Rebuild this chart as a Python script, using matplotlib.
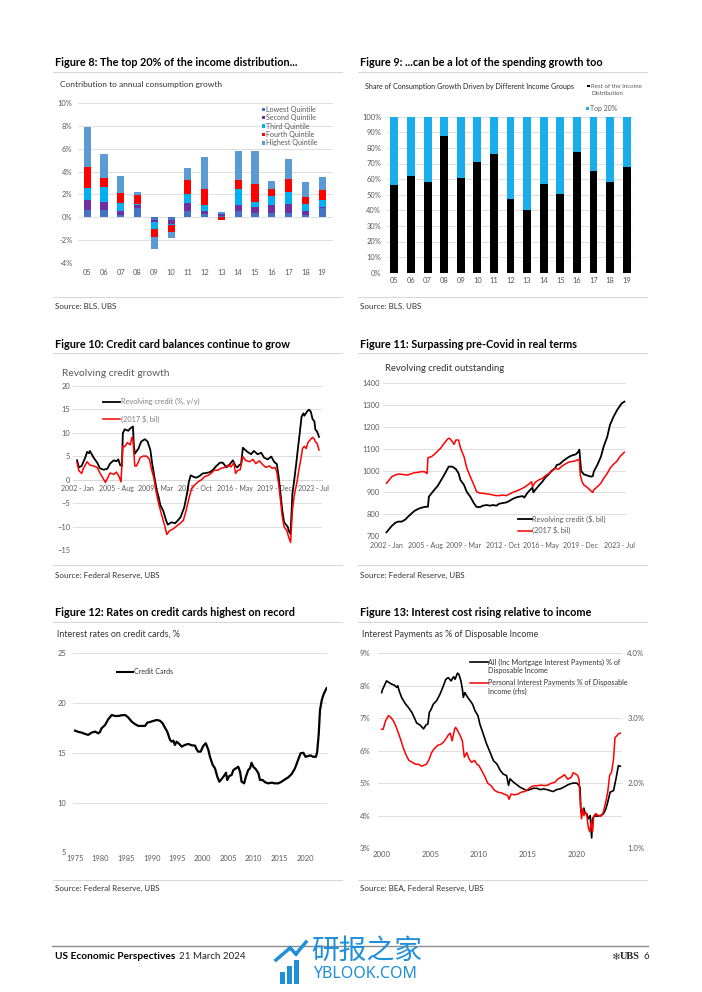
import matplotlib
matplotlib.use("Agg")
import matplotlib.pyplot as plt
from matplotlib.lines import Line2D
from matplotlib.patches import Rectangle

plt.rcParams['font.family'] = ['Lato', 'DejaVu Sans']

# ---------------- datos ----------------
years_lbl = ["05", "06", "07", "08", "09", "10", "11", "12", "13", "14", "15", "16", "17", "18", "19"]

# Figura 8: contribucion por quintil (pp)
q_lowest = [0.68, 0.68, 0.18, 0.8, -0.2, -0.2, 0.55, 0.3, 0.15, 0.6, 0.4, 0.35, 0.35, 0.25, 0.8]
q_second = [0.8, 0.68, 0.42, 0.25, -0.2, -0.4, 0.7, 0.3, 0.15, 0.45, 0.55, 0.75, 0.8, 0.35, 0.1]
q_third = [1.1, 1.25, 0.65, 0.15, -0.65, -0.1, 0.8, 0.5, 0.05, 1.4, 0.4, 0.75, 1.05, 0.55, 0.65]
q_fourth = [1.85, 0.82, 0.85, 0.75, -0.7, -0.55, 1.25, 1.35, -0.2, 0.85, 1.55, 0.6, 1.15, 0.65, 0.85]
q_highest = [3.45, 2.1, 1.55, 0.25, -1.0, -0.55, 1.0, 2.8, 0.15, 2.45, 2.9, 0.7, 1.75, 1.25, 1.15]
quint_names = ["Lowest Quintile", "Second Quintile", "Third Quintile", "Fourth Quintile", "Highest Quintile"]
quint_colors = ["#4472C4", "#7030A0", "#00B0F0", "#FF0000", "#5B9BD5"]

# Figura 9: participacion del resto (%), top 20% = 100 - resto
rest_share = [56, 62, 58, 87.5, 61, 71, 76, 47.5, 40.5, 57, 50.5, 77.5, 65.5, 58, 67.5]

# Figura 10: crecimiento del credito revolvente (mes 0 = 2002-Jan)
f10_black_m = [0, 2, 5, 9, 11, 13, 14, 18, 22, 25, 29, 33, 36, 40, 43, 45, 47, 49, 50, 52, 56, 58, 61, 62, 63,
               67, 70, 74, 77, 80, 82, 85, 87, 89, 91, 94, 97, 99, 103, 107, 110, 113, 117, 120, 122, 124, 127,
               130, 134, 137, 141, 145, 148, 152, 156, 159, 163, 166, 170, 173, 175, 177, 179, 181, 183, 186,
               190, 193, 197, 201, 204, 208, 212, 215, 218, 220, 222, 224, 226, 230, 231, 233, 234, 235, 237,
               239, 241, 243, 245, 247, 248, 251, 253, 255, 257, 259, 260, 262, 264]
f10_black = [4.1, 2.6, 2.9, 4.7, 5.9, 5.6, 6.1, 4.7, 3.6, 2.4, 2.1, 2.3, 3.4, 4.1, 3.9, 4.3, 3.1, 2.9, 9.9, 10.7,
             10.4, 10.9, 11.3, 7.4, 5.5, 6.6, 8.1, 8.6, 8.1, 6.3, 3.4, -0.1, -2.3, -3.7, -5.5, -6.6, -8.6, -9.6,
             -9.1, -9.3, -8.7, -8.0, -5.9, -3.0, -0.5, 0.9, 0.6, 0.4, 0.8, 1.3, 1.4, 1.6, 2.0, 2.9, 3.6, 3.6,
             2.6, 3.1, 4.1, 2.9, 2.6, 3.1, 3.3, 6.8, 6.4, 5.9, 5.4, 6.1, 5.4, 5.7, 4.7, 4.3, 4.9, 3.8, 3.3, 0.6,
             -3.0, -6.6, -9.1, -10.1, -10.9, -11.6, -7.3, -3.0, -0.1, 3.1, 6.6, 9.9, 13.4, 14.1, 13.6, 14.5,
             14.9, 14.5, 12.9, 12.4, 10.7, 10.2, 9.1]
f10_red_m = [0, 2, 5, 7, 11, 14, 18, 22, 25, 28, 31, 34, 36, 40, 43, 46, 48, 50, 52, 55, 58, 60, 61, 63, 65, 69,
             72, 76, 79, 81, 84, 86, 89, 92, 96, 98, 101, 105, 108, 112, 116, 119, 122, 125, 128, 132, 136, 139,
             143, 146, 150, 154, 157, 161, 165, 168, 171, 173, 175, 178, 181, 184, 188, 192, 195, 199, 203, 206,
             210, 213, 216, 218, 220, 222, 224, 226, 229, 231, 233, 234, 235, 237, 240, 242, 244, 246, 248, 250,
             252, 255, 257, 259, 260, 262, 264]
f10_red = [3.6, 1.9, 1.3, 2.4, 3.8, 3.1, 2.9, 2.6, 1.4, 0.4, -0.6, 0.6, 1.4, 1.1, 1.6, 0.6, -0.5, 7.1, 7.0, 7.9,
           7.4, 9.0, 8.6, 2.9, 2.9, 4.7, 5.0, 5.0, 4.3, 2.4, 0.2, -2.3, -5.1, -7.3, -10.1, -11.7, -10.9, -10.5,
           -10.0, -9.4, -8.7, -6.6, -4.1, -1.9, -1.2, -0.5, 0.0, 0.6, 0.9, 1.3, 2.0, 2.0, 2.4, 2.6, 3.1, 2.7, 3.6,
           1.3, 1.9, 2.1, 4.9, 4.1, 3.8, 4.3, 3.4, 4.0, 3.1, 2.6, 2.9, 2.4, 2.6, 1.6, -0.9, -4.4, -8.0, -10.1,
           -10.9, -12.3, -13.4, -10.1, -6.6, -3.4, -0.5, 2.0, 4.1, 6.6, 7.1, 6.6, 7.9, 8.6, 9.0, 8.6, 8.1, 7.7, 6.3]
month_ticks = [0, 43, 86, 129, 172, 215, 258]
month_lbls = ["2002 - Jan", "2005 - Aug", "2009 - Mar", "2012 - Oct", "2016 - May", "2019 - Dec", "2023 - Jul"]

# Figura 11: credito revolvente, $ bil
f11_black_m = [0, 3, 6, 10, 13, 17, 21, 24, 28, 31, 35, 39, 43, 46, 47, 50, 53, 57, 60, 64, 67, 69, 73, 77, 80,
               82, 86, 89, 93, 97, 100, 104, 107, 111, 115, 118, 122, 125, 129, 133, 136, 140, 144, 147, 151,
               153, 156, 160, 162, 163, 165, 169, 173, 176, 180, 183, 187, 189, 192, 196, 200, 203, 207, 210,
               213, 214, 215, 216, 219, 223, 227, 229, 230, 234, 238, 241, 245, 248, 252, 256, 259, 261, 264]
f11_black = [717, 732, 747, 761, 766, 766, 776, 789, 804, 815, 824, 830, 834, 834, 880, 896, 911, 931, 952, 980,
             1003, 1018, 1018, 1007, 987, 957, 934, 903, 880, 850, 833, 833, 839, 842, 839, 842, 839, 848, 851,
             854, 860, 870, 877, 880, 883, 876, 896, 914, 922, 900, 911, 931, 949, 967, 983, 998, 1010, 1026,
             1029, 1044, 1056, 1064, 1071, 1074, 1087, 1096, 1048, 998, 983, 977, 972, 975, 995, 1026, 1064,
             1110, 1155, 1209, 1247, 1278, 1296, 1308, 1316]
f11_red_m = [0, 3, 6, 10, 13, 17, 21, 24, 28, 31, 35, 39, 42, 45, 46, 50, 53, 57, 60, 64, 68, 70, 73, 75, 77, 80,
             82, 86, 89, 93, 97, 100, 104, 107, 111, 115, 118, 122, 125, 129, 133, 136, 140, 144, 147, 151, 154,
             158, 161, 162, 165, 169, 173, 176, 180, 183, 187, 191, 194, 198, 202, 205, 209, 212, 214, 215, 217,
             219, 223, 227, 229, 230, 234, 238, 241, 245, 248, 252, 256, 259, 264]
f11_red = [942, 957, 972, 980, 984, 983, 980, 980, 986, 990, 992, 995, 995, 986, 1059, 1064, 1074, 1090, 1102,
           1125, 1145, 1148, 1133, 1120, 1140, 1140, 1105, 1064, 1013, 972, 934, 903, 896, 896, 893, 891, 888,
           885, 885, 888, 885, 891, 900, 906, 911, 919, 926, 938, 949, 926, 946, 957, 964, 975, 986, 995, 1010,
           1006, 1018, 1029, 1038, 1041, 1044, 1048, 1053, 980, 949, 934, 922, 906, 900, 911, 926, 942, 964, 987,
           1010, 1029, 1044, 1064, 1084]

# Figura 12: tasa de tarjetas de credito, %
f12_year = [1975.0, 1975.65, 1976.3, 1976.95, 1977.6, 1978.25, 1978.9, 1979.55, 1979.9, 1980.2, 1980.9, 1981.5,
            1982.2, 1982.8, 1983.5, 1984.1, 1984.8, 1985.4, 1986.1, 1986.7, 1987.4, 1988.05, 1988.7, 1989.15,
            1989.7, 1990.3, 1991.0, 1991.6, 1992.15, 1992.6, 1993.05, 1993.6, 1993.9, 1994.25, 1994.55, 1994.9,
            1995.4, 1995.9, 1996.5, 1997.2, 1997.8, 1998.5, 1998.8, 1999.1, 1999.6, 2000.1, 2000.6, 2001.1,
            2001.4, 2001.95, 2002.4, 2002.85, 2003.25, 2003.7, 2004.15, 2004.55, 2004.8, 2005.2, 2005.65, 2006.0,
            2006.5, 2006.95, 2007.3, 2007.6, 2008.1, 2008.45, 2008.9, 2009.25, 2009.55, 2009.9, 2010.4, 2010.9,
            2011.2, 2011.7, 2012.2, 2012.8, 2013.5, 2014.1, 2014.8, 2015.45, 2016.1, 2016.75, 2017.4, 2018.05,
            2018.7, 2019.15, 2019.7, 2020.1, 2020.65, 2021.1, 2021.6, 2022.15, 2022.4, 2022.7, 2022.95, 2023.3,
            2023.6, 2023.9, 2024.25]
f12_rate = [17.23, 17.1, 17.03, 16.9, 16.8, 17.03, 17.13, 16.96, 17.1, 17.46, 17.8, 18.37, 18.8, 18.7, 18.7,
            18.77, 18.8, 18.57, 18.13, 17.9, 17.7, 17.7, 17.7, 18.03, 18.1, 18.2, 18.3, 18.23, 17.97, 17.53,
            17.13, 16.3, 16.12, 16.22, 15.79, 16.12, 15.89, 15.62, 15.79, 15.89, 15.76, 15.72, 15.35, 15.12,
            15.12, 15.69, 15.96, 15.29, 14.62, 13.78, 13.44, 12.6, 12.1, 12.37, 12.67, 13.0, 12.27, 12.67, 12.77,
            13.27, 13.44, 13.6, 13.1, 12.1, 11.93, 12.6, 13.27, 13.44, 14.0, 13.6, 13.34, 12.94, 12.27, 12.27,
            12.04, 11.93, 12.0, 11.93, 11.93, 12.1, 12.33, 12.54, 12.87, 13.44, 14.34, 14.95, 15.0, 14.6, 14.68,
            14.74, 14.6, 14.6, 15.1, 16.9, 19.3, 20.3, 20.8, 21.15, 21.5]

# Figura 13: pagos de intereses como % del ingreso disponible
f13_all_year = [2000.0, 2000.07, 2000.3, 2000.5, 2000.75, 2001.0, 2001.3, 2001.55, 2001.65, 2001.8, 2002.05,
                2002.4, 2002.75, 2003.1, 2003.35, 2003.6, 2003.95, 2004.3, 2004.55, 2004.75, 2004.9, 2005.1,
                2005.3, 2005.65, 2006.0, 2006.35, 2006.6, 2006.85, 2007.15, 2007.4, 2007.55, 2007.8, 2007.95,
                2008.15, 2008.3, 2008.4, 2008.55, 2008.85, 2009.1, 2009.35, 2009.6, 2009.9, 2010.1, 2010.45,
                2010.8, 2011.15, 2011.5, 2011.85, 2012.2, 2012.5, 2012.85, 2013.05, 2013.2, 2013.55, 2013.9,
                2014.25, 2014.6, 2014.9, 2015.25, 2015.6, 2015.95, 2016.3, 2016.65, 2017.0, 2017.3, 2017.65,
                2018.0, 2018.35, 2018.7, 2019.05, 2019.4, 2019.7, 2020.05, 2020.25, 2020.4, 2020.5, 2020.65,
                2020.8, 2020.9, 2021.1, 2021.25, 2021.45, 2021.6, 2021.7, 2021.9, 2022.1, 2022.5, 2022.8,
                2023.05, 2023.25, 2023.5, 2023.85, 2024.1, 2024.35, 2024.55]
f13_all = [7.79, 7.87, 8.02, 8.15, 8.1, 8.05, 8.02, 7.95, 8.0, 7.84, 7.64, 7.46, 7.33, 7.18, 7.02, 6.85, 6.79,
           6.67, 6.79, 6.82, 7.18, 7.28, 7.43, 7.54, 7.74, 8.0, 8.2, 8.25, 8.15, 8.28, 8.2, 8.39, 8.35, 8.15, 7.9,
           7.64, 7.79, 7.64, 7.54, 7.43, 7.23, 7.08, 6.82, 6.51, 6.2, 5.95, 5.69, 5.59, 5.39, 5.28, 5.23, 4.93,
           5.13, 5.03, 4.95, 4.87, 4.82, 4.77, 4.8, 4.84, 4.84, 4.8, 4.82, 4.8, 4.77, 4.74, 4.8, 4.82, 4.87, 4.93,
           4.98, 5.0, 5.0, 4.95, 4.87, 4.1, 4.15, 4.23, 4.1, 4.05, 3.9, 4.0, 3.31, 3.9, 4.0, 3.98, 4.0, 4.05, 4.2,
           4.41, 4.72, 4.77, 5.13, 5.54, 5.52]
f13_pers_year = [2000.0, 2000.15, 2000.4, 2000.7, 2000.95, 2001.2, 2001.45, 2001.7, 2002.0, 2002.2, 2002.55,
                 2002.8, 2003.15, 2003.5, 2003.8, 2004.1, 2004.4, 2004.6, 2004.9, 2005.1, 2005.4, 2005.75, 2006.1,
                 2006.35, 2006.6, 2006.85, 2007.05, 2007.25, 2007.5, 2007.6, 2007.8, 2008.05, 2008.3, 2008.5,
                 2008.75, 2009.0, 2009.25, 2009.55, 2009.8, 2010.0, 2010.3, 2010.65, 2010.9, 2011.25, 2011.6,
                 2011.95, 2012.3, 2012.6, 2012.95, 2013.1, 2013.3, 2013.65, 2014.0, 2014.35, 2014.7, 2015.0,
                 2015.35, 2015.7, 2016.05, 2016.4, 2016.75, 2017.1, 2017.45, 2017.8, 2018.1, 2018.45, 2018.8,
                 2019.15, 2019.5, 2019.7, 2019.95, 2020.15, 2020.3, 2020.45, 2020.55, 2020.7, 2020.8, 2020.95,
                 2021.1, 2021.25, 2021.4, 2021.55, 2021.7, 2021.8, 2022.0, 2022.3, 2022.55, 2022.8, 2023.05,
                 2023.25, 2023.45, 2023.65, 2023.85, 2024.0, 2024.2, 2024.35, 2024.55]
f13_pers = [2.83, 2.83, 2.96, 3.04, 3.01, 2.96, 2.88, 2.78, 2.65, 2.55, 2.42, 2.35, 2.32, 2.29, 2.29, 2.26, 2.28,
            2.29, 2.37, 2.46, 2.53, 2.58, 2.6, 2.63, 2.68, 2.74, 2.77, 2.65, 2.83, 2.86, 2.81, 2.74, 2.65, 2.4,
            2.47, 2.37, 2.32, 2.35, 2.29, 2.27, 2.19, 2.09, 2.0, 1.96, 1.89, 1.86, 1.85, 1.83, 1.81, 1.75, 1.83,
            1.82, 1.83, 1.86, 1.87, 1.9, 1.94, 1.96, 1.96, 1.97, 1.96, 1.97, 2.0, 2.01, 2.06, 2.09, 2.13, 2.06,
            2.09, 2.16, 2.14, 2.12, 2.06, 1.65, 1.45, 1.6, 1.5, 1.55, 1.5, 1.32, 1.25, 1.4, 1.25, 1.48, 1.53, 1.5,
            1.49, 1.55, 1.71, 1.86, 2.12, 2.17, 2.37, 2.7, 2.73, 2.76, 2.77]

# ---------------- estilo ----------------
W, H = 702, 992
GRID = "#d9d9d9"
TXT = "#595959"
RED = "#FF0000"
BLUE9 = "#1AADEB"
WMARK = "#1E8FD8"

fig = plt.figure(figsize=(W / 100, H / 100), dpi=100)


def box(x0, y0, x1, y1):
    # rectangulo en pixeles (origen arriba-izquierda) -> coords de figura
    return [x0 / W, 1 - y1 / H, (x1 - x0) / W, (y1 - y0) / H]


def ftext(x, y, s, **kw):
    kw.setdefault("va", "center")
    return fig.text(x / W, 1 - y / H, s, **kw)


def fline(x0, x1, y0, y1=None, **kw):
    if y1 is None:
        y1 = y0
    fig.add_artist(Line2D([x0 / W, x1 / W], [1 - y0 / H, 1 - y1 / H], transform=fig.transFigure, **kw))


def fsquare(x, y, size, color):
    fig.add_artist(Rectangle(((x - size / 2) / W, 1 - (y + size / 2) / H), size / W, size / H,
                             transform=fig.transFigure, color=color, lw=0))


def style(ax, fs=5.4):
    for s in ax.spines.values():
        s.set_visible(False)
    ax.tick_params(length=0, labelsize=fs, labelcolor=TXT)
    ax.grid(axis="y", color=GRID, lw=0.6)
    ax.set_axisbelow(True)


# titulos, separadores y fuentes
rows = [(62, 71.7, 296.7, 306.5), (344, 352.7, 565, 575.5), (612.5, 621.7, 880, 888.5)]
titles = [("Figure 8: The top 20% of the income distribution...", "Figure 9: ...can be a lot of the spending growth too"),
          ("Figure 10: Credit card balances continue to grow", "Figure 11: Surpassing pre-Covid in real terms"),
          ("Figure 12: Rates on credit cards highest on record", "Figure 13: Interest cost rising relative to income")]
sources = [("Source: BLS, UBS", "Source: BLS, UBS"),
           ("Source: Federal Reserve, UBS", "Source: Federal Reserve, UBS"),
           ("Source: Federal Reserve, UBS", "Source: BEA, Federal Reserve, UBS")]
for (ty, l1, l2, sy), (t_l, t_r), (s_l, s_r) in zip(rows, titles, sources):
    for x0, x1, t, s in [(53, 342, t_l, s_l), (358, 647, t_r, s_r)]:
        ftext(x0 + 2, ty, t, fontsize=7.8, fontweight="bold", color="#000000")
        fline(x0, x1, l1, color="#d6d6d6", lw=0.7)
        fline(x0, x1, l2, color="#d6d6d6", lw=0.7)
        ftext(x0 + 2, sy, s, fontsize=5.8, color="#333333")

# ---- Figura 8 ----
ax8 = fig.add_axes(box(78, 102.7, 333, 263.3))
style(ax8)
x = list(range(len(years_lbl)))
pos_base = [0.0] * len(x)
neg_base = [0.0] * len(x)
for vals, name, col in zip([q_lowest, q_second, q_third, q_fourth, q_highest], quint_names, quint_colors):
    bottoms = [pos_base[i] if v >= 0 else neg_base[i] for i, v in enumerate(vals)]
    ax8.bar(x, vals, 0.42, bottom=bottoms, color=col, lw=0)
    for i, v in enumerate(vals):
        if v >= 0:
            pos_base[i] += v
        else:
            neg_base[i] += v
ax8.set_ylim(-4, 10)
ax8.set_xlim(-0.55, 14.65)
ax8.set_yticks(range(-4, 11, 2))
ax8.set_yticklabels(["%d%%" % v for v in range(-4, 11, 2)])
ax8.set_xticks(x)
ax8.set_xticklabels(years_lbl)
ax8.tick_params(axis="y", pad=4)
ax8.tick_params(axis="x", pad=4)
ftext(60, 85, "Contribution to annual consumption growth", fontsize=6.0, color="#333333")
for k, (name, col) in enumerate(zip(quint_names, quint_colors)):
    yy = 109.3 + k * 8.4
    fsquare(263.3, yy, 3.2, col)
    ftext(266.5, yy, name, fontsize=5.1, color=TXT)

# ---- Figura 9 ----
ax9 = fig.add_axes(box(386.7, 116.7, 633, 272.7))
style(ax9)
top20 = [100 - v for v in rest_share]
ax9.bar(x, rest_share, 0.48, color="#000000", lw=0)
ax9.bar(x, top20, 0.48, bottom=rest_share, color=BLUE9, lw=0)
ax9.set_ylim(0, 100)
ax9.set_xlim(-0.46, 14.38)
ax9.set_yticks(range(0, 101, 10))
ax9.set_yticklabels(["%d%%" % v for v in range(0, 101, 10)])
ax9.set_xticks(x)
ax9.set_xticklabels(years_lbl)
ax9.tick_params(axis="y", pad=4)
ax9.tick_params(axis="x", pad=3)
ftext(365, 86, "Share of Consumption Growth Driven by Different Income Groups", fontsize=5.1, color="#222222")
fsquare(588.5, 86, 2.8, "#000000")
ftext(591, 86, "Rest of the Income", fontsize=4.4, color=TXT)
ftext(591, 93.3, "Distribution", fontsize=4.4, color=TXT)
fsquare(587.5, 108.3, 2.8, BLUE9)
ftext(590, 108.3, "Top 20%", fontsize=5.0, color=TXT)

# ---- Figura 10 ----
ax10 = fig.add_axes(box(73, 385.7, 322, 550))
style(ax10)
ax10.plot(f10_black_m, f10_black, color="#000000", lw=1.3, zorder=3)
ax10.plot(f10_red_m, f10_red, color=RED, lw=1.1, zorder=3)
ax10.set_ylim(-15, 20)
ax10.set_xlim(-4.4, 267.3)
ax10.set_yticks(range(-15, 21, 5))
ax10.spines["bottom"].set_visible(True)
ax10.spines["bottom"].set_position(("data", 0))
ax10.spines["bottom"].set_color(GRID)
ax10.spines["bottom"].set_linewidth(0.6)
ax10.set_xticks(month_ticks)
ax10.set_xticklabels(month_lbls)
ax10.tick_params(axis="y", pad=2)
ax10.tick_params(axis="x", pad=4, labelsize=5.0)
ftext(62.5, 373, "Revolving credit growth", fontsize=7.4, color=TXT)
fline(103, 120, 401.7, color="#000000", lw=1.3)
ftext(121, 401.7, "Revolving credit (%, y/y)", fontsize=5.3, color="#7f7f7f")
fline(103, 120, 419.3, color=RED, lw=1.1)
ftext(121, 419.3, "(2017 $, bil)", fontsize=5.3, color="#7f7f7f")

# ---- Figura 11 ----
ax11 = fig.add_axes(box(383, 383.3, 626, 536))
style(ax11)
ax11.plot(f11_black_m, f11_black, color="#000000", lw=1.3, zorder=3)
ax11.plot(f11_red_m, f11_red, color=RED, lw=1.1, zorder=3)
ax11.set_ylim(700, 1400)
ax11.set_xlim(-3.9, 265.8)
ax11.set_yticks(range(700, 1401, 100))
ax11.set_xticks(month_ticks)
ax11.set_xticklabels(month_lbls)
ax11.tick_params(axis="y", pad=2.5)
ax11.tick_params(axis="x", pad=4, labelsize=5.0)
ftext(385, 368.3, "Revolving credit outstanding", fontsize=6.8, color="#333333")
fline(518, 532, 518.7, color="#000000", lw=1.3)
ftext(532.5, 518.7, "Revolving credit ($, bil)", fontsize=5.3, color=TXT)
fline(518, 532, 530.5, color=RED, lw=1.1)
ftext(532.5, 530.5, "(2017 $, bil)", fontsize=5.3, color=TXT)

# ---- Figura 12 ----
ax12 = fig.add_axes(box(73.3, 653.3, 326.7, 852.3))
style(ax12)
ax12.plot(f12_year, f12_rate, color="#000000", lw=1.6, zorder=3)
ax12.set_ylim(5, 25)
ax12.set_xlim(1974.67, 2024.26)
ax12.set_yticks(range(5, 26, 5))
ax12.set_xticks(range(1975, 2021, 5))
ax12.tick_params(axis="y", pad=5)
ax12.tick_params(axis="x", pad=2)
ftext(56.7, 634.3, "Interest rates on credit cards, %", fontsize=6.4, color="#333333")
fline(116.7, 133.3, 671.7, color="#000000", lw=1.5)
ftext(134, 671.7, "Credit Cards", fontsize=5.1, color="#333333")

# ---- Figura 13 ----
ax13 = fig.add_axes(box(377.7, 653.3, 621.7, 848))
style(ax13)
ax13r = ax13.twinx()
for s in ax13r.spines.values():
    s.set_visible(False)
ax13r.tick_params(length=0, labelsize=5.6, labelcolor=TXT, pad=4)
ax13.plot(f13_all_year, f13_all, color="#000000", lw=1.2, zorder=3)
ax13r.plot(f13_pers_year, f13_pers, color=RED, lw=1.1, zorder=3)
ax13.set_ylim(3, 9)
ax13r.set_ylim(1, 4)
ax13.set_xlim(1999.59, 2024.69)
ax13.set_yticks(range(3, 10))
ax13.set_yticklabels(["%d%%" % v for v in range(3, 10)])
ax13r.set_yticks([1, 2, 3, 4])
ax13r.set_yticklabels(["1.0%", "2.0%", "3.0%", "4.0%"])
ax13.set_xticks(range(2000, 2021, 5))
ax13.tick_params(axis="y", pad=5, labelsize=5.6)
ax13.tick_params(axis="x", pad=2, labelsize=5.6)
ftext(361.7, 634.3, "Interest Payments as % of Disposable Income", fontsize=6.4, color="#333333")
fline(470, 487.5, 662, color="#000000", lw=1.2)
ftext(488.3, 662, "All (Inc Mortgage Interest Payments) % of", fontsize=5.2, color="#333333")
ftext(488.3, 671, "Disposable Income", fontsize=5.2, color="#333333")
fline(470, 487.5, 682.7, color=RED, lw=1.1)
ftext(488.3, 682.7, "Personal Interest Payments % of Disposable", fontsize=5.2, color="#333333")
ftext(488.3, 691.5, "Income (rhs)", fontsize=5.2, color="#333333")

# ---- pie de pagina ----
fline(52, 648, 946, color="#8c8c8c", lw=1.0)
ftext(55, 956.5, "US Economic Perspectives", fontsize=7.3, fontweight="bold", color="#000000")
ftext(179, 956.5, "21 March 2024", fontsize=7.0, color="#222222")
ftext(611, 956.5, "\u2744", fontsize=7.5, color="#333333", family=["DejaVu Sans"])
ftext(620, 956.5, "UBS", fontsize=7.5, fontweight="bold", color="#222222", family=["Liberation Serif"])
ftext(644, 956.5, "6", fontsize=7.0, color="#222222")

# marca de agua
for bx, by, bh in [(280, 972, 12), (287, 966, 18), (294, 960, 24)]:
    fig.add_artist(Rectangle((bx / W, 1 - (by + bh) / H), 5 / W, bh / H,
                             transform=fig.transFigure, color=WMARK, lw=0))
fline(276, 290, 960, 948, color=WMARK, lw=2.5)
fline(290, 296, 948, 954, color=WMARK, lw=2.5)
fline(296, 306, 954, 942, color=WMARK, lw=2.5)
ftext(311, 951, "研报之家", fontsize=20, color=WMARK, family=["Noto Sans CJK SC"])
ftext(313, 974, "YBLOOK.COM", fontsize=11.5, color=WMARK, family=["Noto Sans", "DejaVu Sans"])

fig.savefig("out.png", dpi=100)
